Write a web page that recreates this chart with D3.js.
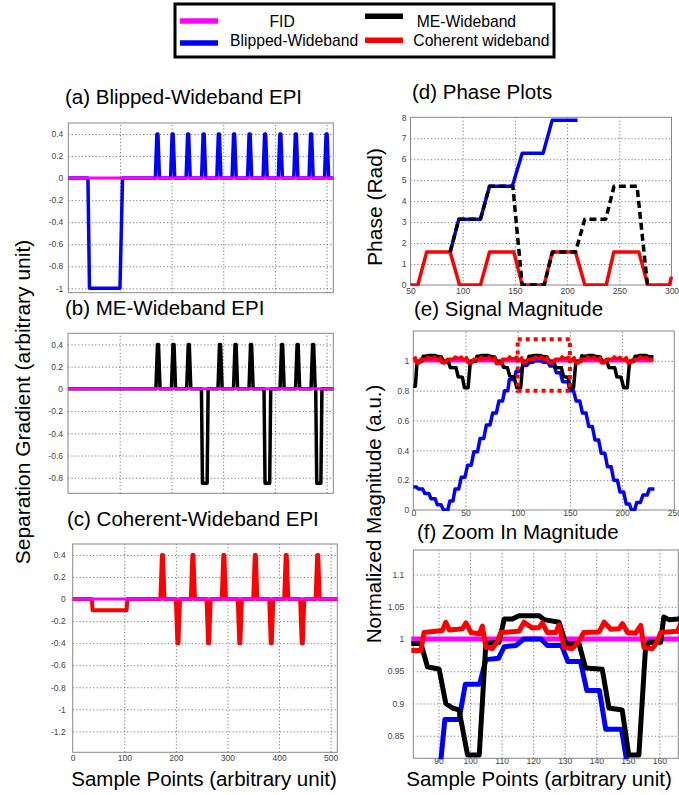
<!DOCTYPE html>
<head>
    <meta charset="utf-8">
    <script src="https://cdn.jsdelivr.net/npm/d3@7/dist/d3.min.js"></script>
    <style>
        body { margin: 0; background: white; }
        text { font-family: "Liberation Sans", Arial, sans-serif; }
        .grid line { stroke: #555; stroke-dasharray: 1.2,2.2; stroke-width: 0.8px; }
        .grid path { display: none; }
        .ticks text { fill: #444; font-size: 8.5px; }
        .ticks path { display: none; }
        .series { fill: none; stroke-linejoin: round; stroke-linecap: butt; }
    </style>
</head>

<body>
<script>

    // ---- gradient waveforms (sample point, amplitude) ----
    var fidGrad = [[0, 0], [513, 0]];

    var blippedGrad = [[0, 0], [38, 0], [41, -1], [100, -1], [105, 0],
        [168.5, 0], [171.5, 0.4], [173.5, 0.4], [176.5, 0],
        [198, 0], [201, 0.4], [203, 0.4], [206, 0],
        [228, 0], [231, 0.4], [233, 0.4], [236, 0],
        [258, 0], [261, 0.4], [263, 0.4], [266, 0],
        [287.5, 0], [290.5, 0.4], [292.5, 0.4], [295.5, 0],
        [317, 0], [320, 0.4], [322, 0.4], [325, 0],
        [347, 0], [350, 0.4], [352, 0.4], [355, 0],
        [377, 0], [380, 0.4], [382, 0.4], [385, 0],
        [406.5, 0], [409.5, 0.4], [411.5, 0.4], [414.5, 0],
        [436.5, 0], [439.5, 0.4], [441.5, 0.4], [444.5, 0],
        [466, 0], [469, 0.4], [471, 0.4], [474, 0],
        [496, 0], [499, 0.4], [501, 0.4], [504, 0], [513, 0]];

    var meGrad = [[0, 0],
        [170, 0], [173, 0.4], [175, 0.4], [178, 0],
        [200, 0], [203, 0.4], [205, 0.4], [208, 0],
        [229.5, 0], [232.5, 0.4], [234.5, 0.4], [237.5, 0],
        [258, 0], [260, -0.85], [269, -0.85], [271, 0],
        [290, 0], [293, 0.4], [295, 0.4], [298, 0],
        [320, 0], [323, 0.4], [325, 0.4], [328, 0],
        [350, 0], [353, 0.4], [355, 0.4], [358, 0],
        [379, 0], [381, -0.85], [390, -0.85], [392, 0],
        [410, 0], [413, 0.4], [415, 0.4], [418, 0],
        [440, 0], [443, 0.4], [445, 0.4], [448, 0],
        [470, 0], [473, 0.4], [475, 0.4], [478, 0],
        [479, 0], [481, -0.85], [489, -0.85], [491, 0], [513, 0]];

    var coherentGrad = [[0, 0], [37, 0], [38.5, -0.1], [104.5, -0.1], [106, 0],
        [170, 0], [173, 0.4], [175, 0.4], [178, 0],
        [200, 0], [203, -0.4], [205, -0.4], [208, 0],
        [229, 0], [232, 0.4], [234, 0.4], [237, 0],
        [259.5, 0], [262.5, -0.4], [264.5, -0.4], [267.5, 0],
        [289, 0], [292, 0.4], [294, 0.4], [297, 0],
        [320, 0], [323, -0.4], [325, -0.4], [328, 0],
        [350, 0], [353, 0.4], [355, 0.4], [358, 0],
        [381, 0], [384, -0.4], [386, -0.4], [389, 0],
        [410, 0], [413, 0.4], [415, 0.4], [418, 0],
        [441, 0], [444, -0.4], [446, -0.4], [449, 0],
        [471, 0], [474, 0.4], [476, 0.4], [479, 0], [513, 0]];

    // ---- phase (rad) ----
    var phaseCoherent = [[50, 0], [57, 0], [65.5, 1.571], [88, 1.571], [97, 0], [117, 0],
        [125.7, 1.571], [149, 1.571], [157, 0], [178, 0], [185.7, 1.571], [208, 1.571],
        [217, 0], [237.5, 0], [244.7, 1.571], [268.7, 1.571], [277.3, 0], [298, 0], [300, 0.4]];
    var phaseBlipped = [[88, 1.571], [96.3, 3.142], [117, 3.142], [125.7, 4.712], [147.5, 4.712],
        [157, 6.283], [177, 6.283], [185.7, 7.854], [210, 7.854]];
    var phaseME = [[88, 1.571], [96.3, 3.142], [117, 3.142], [125.7, 4.712], [148, 4.712],
        [157, 0], [178, 0], [186, 1.571], [208, 1.571], [217, 3.142], [237, 3.142],
        [245, 4.712], [267, 4.712], [277, 0]];

    // ---- normalized magnitude ----
    var magFID = [[0, 1], [230, 1]];

    var magBlipped = [[0, 0.155], [3, 0.155], [5, 0.14], [9, 0.14], [11, 0.11], [15, 0.11],
        [17, 0.075], [21, 0.075], [23, 0.035], [26.5, 0.035], [29, 0], [33, 0],
        [35, 0.06], [38, 0.06], [40, 0.14], [43.5, 0.14], [46, 0.22], [49.5, 0.22],
        [52, 0.3], [55.5, 0.3], [58, 0.39], [61.5, 0.39], [64, 0.48], [67.5, 0.48],
        [70, 0.57], [73.5, 0.57], [76, 0.65], [79.5, 0.65], [82, 0.73], [85.5, 0.73],
        [87.5, 0.8], [90.5, 0.8], [92, 0.875], [96.5, 0.875], [98.5, 0.93], [103, 0.93],
        [105, 0.968], [109, 0.97], [110.8, 0.988], [114.5, 0.99], [117, 1.0], [122.5, 1.0],
        [124.5, 0.99], [129, 0.99], [131, 0.965], [135, 0.965], [137, 0.92], [141, 0.92],
        [143, 0.86], [148, 0.86], [150, 0.8], [153.5, 0.8], [156, 0.73], [159.5, 0.73],
        [162, 0.65], [165.5, 0.65], [168, 0.56], [171.5, 0.56], [174, 0.47], [177.5, 0.47],
        [180, 0.38], [183.5, 0.38], [186, 0.29], [189.5, 0.29], [192, 0.2], [195.5, 0.2],
        [198, 0.12], [201.5, 0.12], [204, 0.04], [207, 0.04], [209, 0], [212, 0],
        [214, 0.05], [217.5, 0.05], [220, 0.1], [224, 0.1], [226, 0.14], [231, 0.14]];

    var magME = [[0, 0.83], [2, 0.83], [3.5, 0.99], [8, 0.995], [9.5, 1.031], [12.5, 1.031],
        [14.5, 1.036], [21, 1.036], [22.5, 1.03], [27, 1.026], [29, 0.993], [33.5, 0.993],
        [35.5, 0.955], [41, 0.953], [43, 0.893], [47, 0.89], [49, 0.82], [52.5, 0.82],
        [54.5, 0.985], [55.5, 0.995], [59.5, 0.995], [61, 1.031], [63.5, 1.031], [65.5, 1.036],
        [72, 1.036], [73.5, 1.03], [78, 1.026], [80, 0.993], [84.4, 0.993], [86.5, 0.957],
        [90.2, 0.953], [92.3, 0.9], [94.4, 0.893], [96.5, 0.89], [99.2, 0.82], [102.9, 0.82],
        [105, 0.993], [109.2, 0.995], [110.8, 1.031], [113.4, 1.031], [115.5, 1.036],
        [121.9, 1.036], [123.5, 1.03], [128.2, 1.026], [130.3, 0.993], [134.5, 0.993],
        [136.6, 0.955], [141.9, 0.953], [144, 0.893], [148.2, 0.89], [150.3, 0.82],
        [153.5, 0.82], [155.6, 0.985], [156.7, 0.995], [160.4, 0.995], [161.4, 1.034],
        [163, 1.03], [166, 1.031], [168, 1.036], [172.5, 1.036], [174, 1.03], [179, 1.026],
        [181, 0.993], [185.5, 0.993], [187.5, 0.955], [193, 0.953], [195, 0.893], [199, 0.89],
        [201.5, 0.82], [205, 0.82], [207, 0.985], [208, 0.995], [211, 0.995], [212.5, 1.031],
        [215, 1.031], [217, 1.036], [223, 1.036], [224.5, 1.03], [230, 1.026]];

    var magCoherent = [[0, 1.01], [2, 1.02], [3, 0.985], [5.5, 0.985], [7, 1.01], [13, 1.012],
        [14, 1.025], [15.5, 1.014], [19, 1.016], [20.5, 1.025], [22, 1.01], [25, 1.008],
        [26, 1.022], [27.5, 0.987], [30, 0.985], [31.5, 0.996], [32.5, 1.01], [38.5, 1.012],
        [40, 1.026], [42.5, 1.017], [45, 1.018], [46, 1.025], [47.5, 1.01], [50, 1.01],
        [51, 1.022], [52.5, 0.987], [55.5, 0.985], [57, 0.996], [58, 1.01], [64, 1.012],
        [65, 1.026], [66, 1.014], [70, 1.015], [71.5, 1.016], [72.5, 1.025], [74, 1.01],
        [77, 1.008], [78, 1.02], [79.5, 0.982], [84.4, 0.982], [85.4, 1.01], [91.2, 1.013],
        [92.3, 1.026], [93.4, 1.014], [96, 1.015], [97.6, 1.016], [98.7, 1.025], [100.3, 1.01],
        [102.9, 1.008], [103.9, 1.02], [105, 0.987], [107.1, 0.985], [108.7, 0.996],
        [109.7, 1.01], [115.5, 1.012], [117.1, 1.026], [119.7, 1.017], [121.9, 1.018],
        [122.9, 1.025], [124.5, 1.01], [127.2, 1.01], [128.2, 1.022], [129.8, 0.987],
        [132.4, 0.985], [134.5, 0.996], [136, 1.01], [140.9, 1.011], [142.5, 1.026],
        [144.6, 1.015], [147.3, 1.016], [148.3, 1.024], [149.9, 1.01], [152.5, 1.009],
        [154.1, 1.021], [155.1, 0.987], [157.8, 0.985], [159.3, 0.996], [160.4, 1.01],
        [165.7, 1.012], [167, 1.026], [169, 1.016], [172, 1.017], [173, 1.025], [174.5, 1.01],
        [177.5, 1.009], [179, 1.021], [180, 0.987], [182.5, 0.985], [184, 0.996], [185, 1.01],
        [191, 1.012], [192.5, 1.026], [194.5, 1.015], [197, 1.016], [198, 1.024], [199.5, 1.01],
        [202.5, 1.009], [204, 1.021], [205.5, 0.987], [208, 0.985], [209.5, 0.996],
        [210.5, 1.01], [216, 1.012], [217.5, 1.026], [219.5, 1.016], [222, 1.017],
        [223, 1.025], [224.5, 1.01], [230, 1.01]];

    // zoom window drawn in (e)
    var zoomBox = [[100, 0.8], [150, 1.145]];

    // ---- tick values ----
    var gradTicksX = [0, 100, 200, 300, 400, 500];
    var gradTicksYa = [-1, -0.8, -0.6, -0.4, -0.2, 0, 0.2, 0.4];
    var gradTicksYb = [-0.8, -0.6, -0.4, -0.2, 0, 0.2, 0.4];
    var gradTicksYc = [-1.2, -1, -0.8, -0.6, -0.4, -0.2, 0, 0.2, 0.4];
    var phaseTicksX = [50, 100, 150, 200, 250, 300];
    var phaseTicksY = [0, 1, 2, 3, 4, 5, 6, 7, 8];
    var magTicksX = [0, 50, 100, 150, 200, 250];
    var magTicksY = [0, 0.2, 0.4, 0.6, 0.8, 1];
    var zoomTicksX = [90, 100, 110, 120, 130, 140, 150, 160];
    var zoomTicksY = [0.85, 0.9, 0.95, 1, 1.05, 1.1];

    // ---- legend ----
    var legendNames = ["FID", "Blipped-Wideband", "ME-Wideband", "Coherent wideband"];
    var legendColors = ["#ff00ff", "#0000ff", "#000000", "#ff0000"];

    var svg = d3.select("body").append("svg")
        .attr("width", 679)
        .attr("height", 795);

    svg.append("rect").attr("width", 679).attr("height", 795).attr("fill", "white");

    var panelCount = 0;

    function makePanel(p) {
        panelCount++;
        var w = p.right - p.left, h = p.bottom - p.top;
        var x = d3.scaleLinear().domain(p.xDomain).range([0, w]);
        var y = d3.scaleLinear().domain(p.yDomain).range([h, 0]);
        var g = svg.append("g").attr("transform", "translate(" + p.left + "," + p.top + ")");

        var gridX = p.xTicks.filter(function(d) { return x(d) > 1 && x(d) < w - 1; });
        var gridY = p.yTicks.filter(function(d) { return y(d) > 1 && y(d) < h - 1; });

        g.append("g").attr("class", "grid")
            .attr("transform", "translate(0," + h + ")")
            .call(d3.axisBottom(x).tickValues(gridX).tickSize(-h).tickFormat(""));
        g.append("g").attr("class", "grid")
            .call(d3.axisLeft(y).tickValues(gridY).tickSize(-w).tickFormat(""));

        g.append("g").attr("class", "ticks")
            .call(d3.axisLeft(y).tickValues(p.yTicks).tickSize(0).tickPadding(p.yPad)
                .tickFormat(function(d) { return String(d); }))
            .selectAll("text").attr("font-family", null).attr("font-size", null);

        if (p.showX) {
            g.append("g").attr("class", "ticks")
                .attr("transform", "translate(0," + h + ")")
                .call(d3.axisBottom(x).tickValues(p.xTicks).tickSize(0).tickPadding(p.xPad)
                    .tickFormat(function(d) { return String(d); }))
                .selectAll("text").attr("font-family", null).attr("font-size", null);
        }

        g.append("rect")
            .attr("width", w).attr("height", h)
            .attr("fill", "none").attr("stroke", "#888").attr("stroke-width", 1);

        g.append("clipPath").attr("id", "clip" + panelCount)
            .append("rect").attr("x", -2).attr("y", -1).attr("width", w + 4).attr("height", h + 2);

        var plot = g.append("g").attr("clip-path", "url(#clip" + panelCount + ")");

        svg.append("text")
            .attr("x", p.titleX).attr("y", p.titleY)
            .style("font-size", "20.5px")
            .text(p.title);

        return {plot: plot, x: x, y: y};
    }

    function drawLine(panel, data, color, width, dash) {
        var line = d3.line()
            .x(function(d) { return panel.x(d[0]); })
            .y(function(d) { return panel.y(d[1]); });
        panel.plot.append("path")
            .datum(data)
            .attr("class", "series")
            .attr("d", line)
            .attr("stroke", color)
            .attr("stroke-width", width)
            .attr("stroke-dasharray", dash || null);
    }

    // (a)
    var pa = makePanel({left: 68.3, right: 333.3, top: 123, bottom: 292.7,
        xDomain: [0, 513], yDomain: [-1.04, 0.5], xTicks: gradTicksX, yTicks: gradTicksYa,
        yPad: 5, showX: false, title: "(a) Blipped-Wideband EPI", titleX: 65, titleY: 104});
    drawLine(pa, blippedGrad, "#0000ff", 3.5);
    drawLine(pa, fidGrad, "#ff00ff", 3);

    // (b)
    var pb = makePanel({left: 68, right: 333.3, top: 333.3, bottom: 493.3,
        xDomain: [0, 513], yDomain: [-0.94, 0.5], xTicks: gradTicksX, yTicks: gradTicksYb,
        yPad: 5, showX: false, title: "(b) ME-Wideband EPI", titleX: 65, titleY: 315});
    drawLine(pb, meGrad, "#000000", 3.5);
    drawLine(pb, fidGrad, "#ff00ff", 3);

    // (c)
    var pc = makePanel({left: 72.7, right: 337.3, top: 544, bottom: 752.3,
        xDomain: [0, 513], yDomain: [-1.39, 0.5], xTicks: gradTicksX, yTicks: gradTicksYc,
        yPad: 7, showX: true, xPad: 3, title: "(c) Coherent-Wideband EPI", titleX: 67, titleY: 526});
    drawLine(pc, coherentGrad, "#ff0000", 4);
    drawLine(pc, fidGrad, "#ff00ff", 3);

    // (d)
    var pd = makePanel({left: 410.5, right: 671.5, top: 117.3, bottom: 285,
        xDomain: [50, 300], yDomain: [0, 8], xTicks: phaseTicksX, yTicks: phaseTicksY,
        yPad: 4, showX: true, xPad: 3, title: "(d) Phase Plots", titleX: 412, titleY: 99});
    drawLine(pd, phaseCoherent, "#ff0000", 3.5);
    drawLine(pd, phaseBlipped, "#0000ff", 3.5);
    drawLine(pd, phaseME, "#000000", 3.5, "7,4");

    // (e)
    var pe = makePanel({left: 413.3, right: 674.3, top: 331, bottom: 510,
        xDomain: [0, 250], yDomain: [0, 1.2], xTicks: magTicksX, yTicks: magTicksY,
        yPad: 4, showX: true, xPad: 0, title: "(e) Signal Magnitude", titleX: 414, titleY: 316});
    drawLine(pe, magFID, "#ff00ff", 3.5);
    drawLine(pe, magBlipped, "#0000ff", 3.5);
    drawLine(pe, magME, "#000000", 3.5);
    drawLine(pe, magCoherent, "#ff0000", 3.5);
    pe.plot.append("rect")
        .attr("x", pe.x(zoomBox[0][0])).attr("y", pe.y(zoomBox[1][1]))
        .attr("width", pe.x(zoomBox[1][0]) - pe.x(zoomBox[0][0]))
        .attr("height", pe.y(zoomBox[0][1]) - pe.y(zoomBox[1][1]))
        .attr("fill", "none").attr("stroke", "#ff0000")
        .attr("stroke-width", 4).attr("stroke-dasharray", "4,4");

    // (f)
    var pf = makePanel({left: 413.3, right: 678.3, top: 550, bottom: 758.3,
        xDomain: [82, 166], yDomain: [0.815, 1.138], xTicks: zoomTicksX, yTicks: zoomTicksY,
        yPad: 9, showX: true, xPad: 0, title: "(f) Zoom In Magnitude", titleX: 417, titleY: 538.5});
    drawLine(pf, magFID, "#ff00ff", 5);
    drawLine(pf, magBlipped, "#0000ff", 5);
    drawLine(pf, magME, "#000000", 5);
    drawLine(pf, magCoherent, "#ff0000", 5);

    // axis titles
    svg.append("text")
        .attr("transform", "translate(30,402) rotate(-90)")
        .attr("text-anchor", "middle").style("font-size", "21px")
        .text("Separation Gradient (arbitrary unit)");
    svg.append("text")
        .attr("transform", "translate(382,207) rotate(-90)")
        .attr("text-anchor", "middle").style("font-size", "21px")
        .text("Phase (Rad)");
    svg.append("text")
        .attr("transform", "translate(381,514) rotate(-90)")
        .attr("text-anchor", "middle").style("font-size", "20.5px")
        .text("Normalized Magnitude (a.u.)");
    svg.append("text")
        .attr("x", 204).attr("y", 786)
        .attr("text-anchor", "middle").style("font-size", "20.5px")
        .text("Sample Points (arbitrary unit)");
    svg.append("text")
        .attr("x", 539).attr("y", 786)
        .attr("text-anchor", "middle").style("font-size", "20.5px")
        .text("Sample Points (arbitrary unit)");

    // legend
    var leg = svg.append("g");
    leg.append("rect")
        .attr("x", 175).attr("y", 4).attr("width", 379).attr("height", 53)
        .attr("fill", "white").attr("stroke", "black").attr("stroke-width", 3);

    var legLineX = [180, 180, 365, 365];
    var legLineY = [21, 43, 16.3, 40.3];
    var legTextX = [269.5, 230, 416.7, 413.3];
    var legTextY = [26.5, 46, 26.5, 46];

    legendNames.forEach(function(name, i) {
        leg.append("line")
            .attr("x1", legLineX[i]).attr("x2", legLineX[i] + 38)
            .attr("y1", legLineY[i]).attr("y2", legLineY[i])
            .attr("stroke", legendColors[i]).attr("stroke-width", 5.5);
        leg.append("text")
            .attr("x", legTextX[i]).attr("y", legTextY[i])
            .style("font-size", "15.7px")
            .text(name);
    });

</script>
</body>
